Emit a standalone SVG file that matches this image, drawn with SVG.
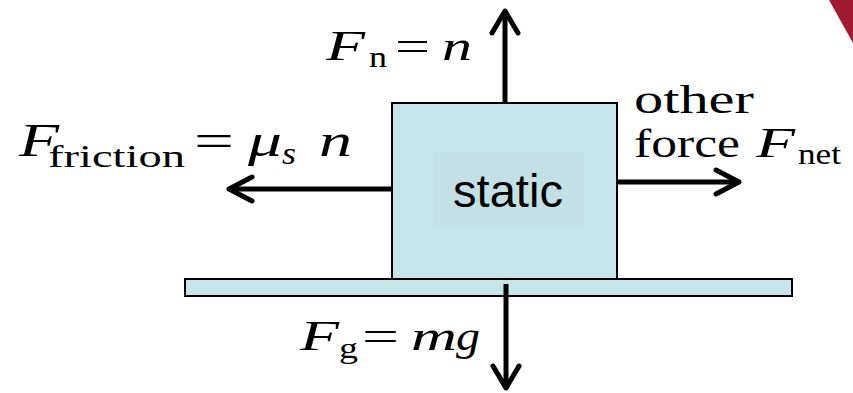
<svg xmlns="http://www.w3.org/2000/svg" width="853" height="393" viewBox="0 0 853 393">
<style>
.mi{font-family:"Liberation Serif","Times New Roman",serif;font-style:italic;fill:#000}
.mr{font-family:"Liberation Serif","Times New Roman",serif;fill:#000}
.lbl{font-family:"Liberation Sans",Arial,sans-serif;fill:#000}
.body{fill:#c5e5e8;stroke:#000;stroke-width:2}
.shaft{stroke:#000;stroke-width:5;fill:none}
.head{stroke:#000;stroke-width:5;fill:none;stroke-linecap:round;stroke-linejoin:round}
</style>
<rect width="853" height="393" fill="#fff"/>
<polygon points="829,0 853,0 853,43" fill="#a01a30"/>
<g id="floor"><rect class="body" x="185" y="279" width="607" height="17"/></g>
<g id="block">
<rect class="body" x="392" y="103" width="225" height="176"/>
<rect x="433" y="152" width="151" height="76" fill="#c3e1e5"/>
<text class="lbl" x="453" y="207" font-size="46" textLength="110" lengthAdjust="spacingAndGlyphs">static</text>
</g>
<g id="connectors">
<line class="shaft" x1="505" y1="103" x2="505" y2="12"/>
<polyline class="head" points="492,33 505,11 518,33"/>
<line class="shaft" x1="392" y1="189" x2="230" y2="189"/>
<polyline class="head" points="252,177 229,189 252,201"/>
<line class="shaft" x1="617" y1="182" x2="737" y2="182"/>
<polyline class="head" points="716,170 739,182 716,194"/>
<line class="shaft" x1="506" y1="284" x2="506" y2="387"/>
<polyline class="head" points="493,366 506,388 519,366"/>
</g>
<g id="label-normal">
<text class="mi" x="326" y="60" font-size="42" textLength="39" lengthAdjust="spacingAndGlyphs">F</text>
<text class="mr" x="369" y="67" font-size="30" textLength="18" lengthAdjust="spacingAndGlyphs">n</text>
<text class="mr" x="395" y="60" font-size="42" textLength="35" lengthAdjust="spacingAndGlyphs">=</text>
<text class="mi" x="442" y="60" font-size="42" textLength="30" lengthAdjust="spacingAndGlyphs">n</text>
</g>
<g id="label-friction">
<text class="mi" x="19" y="156" font-size="46" textLength="40" lengthAdjust="spacingAndGlyphs">F</text>
<text class="mr" x="48" y="167" font-size="32" textLength="137" lengthAdjust="spacingAndGlyphs">friction</text>
<text class="mr" x="194" y="156" font-size="46" textLength="40" lengthAdjust="spacingAndGlyphs">=</text>
<text class="mi" x="248" y="156" font-size="46" textLength="34" lengthAdjust="spacingAndGlyphs">μ</text>
<text class="mi" x="282" y="164" font-size="32" textLength="14" lengthAdjust="spacingAndGlyphs">s</text>
<text class="mi" x="319" y="156" font-size="46" textLength="33" lengthAdjust="spacingAndGlyphs">n</text>
</g>
<g id="label-other">
<text class="mr" x="634" y="113" font-size="39" textLength="120" lengthAdjust="spacingAndGlyphs">other</text>
<text class="mr" x="634" y="157" font-size="39" textLength="106" lengthAdjust="spacingAndGlyphs">force</text>
<text class="mi" x="756" y="157" font-size="42" textLength="39" lengthAdjust="spacingAndGlyphs">F</text>
<text class="mr" x="798" y="164" font-size="30" textLength="43" lengthAdjust="spacingAndGlyphs">net</text>
</g>
<g id="label-gravity">
<text class="mi" x="300" y="350" font-size="42" textLength="39" lengthAdjust="spacingAndGlyphs">F</text>
<text class="mr" x="339" y="358" font-size="30" textLength="19" lengthAdjust="spacingAndGlyphs">g</text>
<text class="mr" x="362" y="350" font-size="42" textLength="37" lengthAdjust="spacingAndGlyphs">=</text>
<text class="mi" x="411" y="350" font-size="42" textLength="46" lengthAdjust="spacingAndGlyphs">m</text>
<text class="mi" x="456" y="350" font-size="42" textLength="24" lengthAdjust="spacingAndGlyphs">g</text>
</g>
</svg>
